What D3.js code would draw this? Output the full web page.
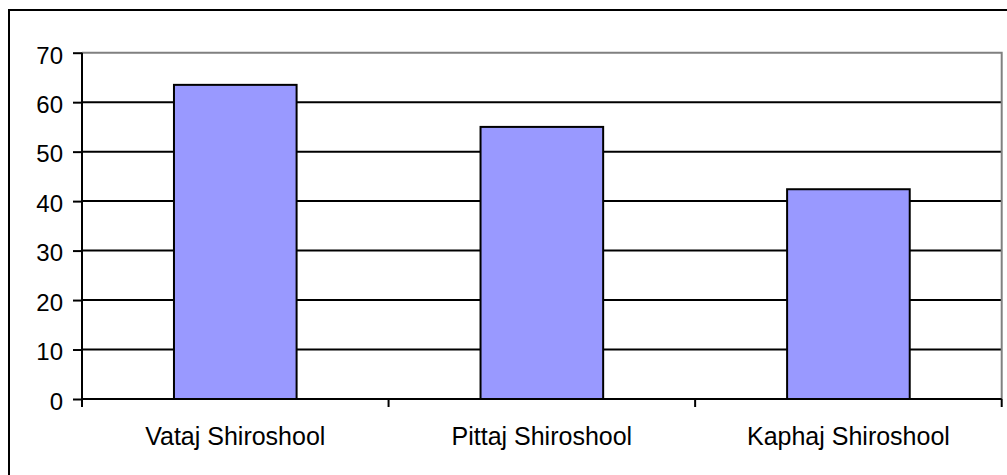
<!DOCTYPE html>
<html><head><meta charset="utf-8">
<script src="https://cdn.jsdelivr.net/npm/d3@7"></script>
<style>
html,body{margin:0;padding:0;background:#fff;}
svg{display:block;font-family:"Liberation Sans",Arial,sans-serif;}
</style></head>
<body><svg id="c" width="1007" height="475"></svg>
<script>
const categories = ["Vataj Shiroshool", "Pittaj Shiroshool", "Kaphaj Shiroshool"];
const values = [63.5, 55.0, 42.4];
const yTicks = [0, 10, 20, 30, 40, 50, 60, 70];

const svg = d3.select("#c");
const L = 82, R = 1001.7, T = 52.7, B = 399;

// outer chart border (cropped at right/bottom)
svg.append("rect").attr("x", 9).attr("y", 10).attr("width", 1010).attr("height", 480)
  .attr("fill", "none").attr("stroke", "#000").attr("stroke-width", 2);

const x = d3.scaleBand().domain(categories).range([L, R]).paddingInner(0.6).paddingOuter(0.3);
const y = d3.scaleLinear().domain([0, 70]).range([B, T]);

// gridlines
svg.append("g").selectAll("line").data(yTicks.filter(d => d > 0 && d < 70)).join("line")
  .attr("x1", L).attr("x2", R).attr("y1", d => y(d)).attr("y2", d => y(d))
  .attr("stroke", "#000").attr("stroke-width", 2);

// plot area top/right border (gray)
svg.append("path").attr("d", `M${L},${y(70)}H${R}V${B}`).attr("fill", "none")
  .attr("stroke", "#808080").attr("stroke-width", 2);

// bars
svg.append("g").selectAll("rect").data(categories).join("rect")
  .attr("x", d => x(d)).attr("width", x.bandwidth())
  .attr("y", (d, i) => y(values[i])).attr("height", (d, i) => y(0) - y(values[i]))
  .attr("fill", "#9999FF").attr("stroke", "#000").attr("stroke-width", 2);

// y axis
const ya = svg.append("g").attr("transform", `translate(${L},0)`)
  .call(d3.axisLeft(y).tickValues(yTicks).tickSize(9).tickPadding(10).tickSizeOuter(0));
ya.attr("font-size", null).attr("font-family", null);
ya.select(".domain").remove();
ya.selectAll(".tick line").attr("stroke", "#000").attr("stroke-width", 2);
ya.selectAll(".tick text").style("font-size", "24px").attr("fill", "#000")
  .attr("dy", "0.43em");
svg.append("line").attr("x1", L).attr("x2", L).attr("y1", y(70)).attr("y2", B + 8)
  .attr("stroke", "#000").attr("stroke-width", 2);

// x axis baseline
svg.append("line").attr("x1", L).attr("x2", R).attr("y1", B).attr("y2", B)
  .attr("stroke", "#000").attr("stroke-width", 2);
// category boundary ticks
const bounds = d3.range(categories.length + 1).map(i => x.range()[0] + i * x.step());
svg.append("g").selectAll("line").data(bounds).join("line")
  .attr("x1", d => d).attr("x2", d => d).attr("y1", B).attr("y2", B + 8)
  .attr("stroke", "#000").attr("stroke-width", 2);
// category labels
svg.append("g").selectAll("text").data(categories).join("text")
  .attr("x", d => x(d) + x.bandwidth() / 2).attr("y", 445)
  .attr("text-anchor", "middle").style("font-size", "25px").attr("fill", "#000")
  .text(d => d);
</script></body></html>
